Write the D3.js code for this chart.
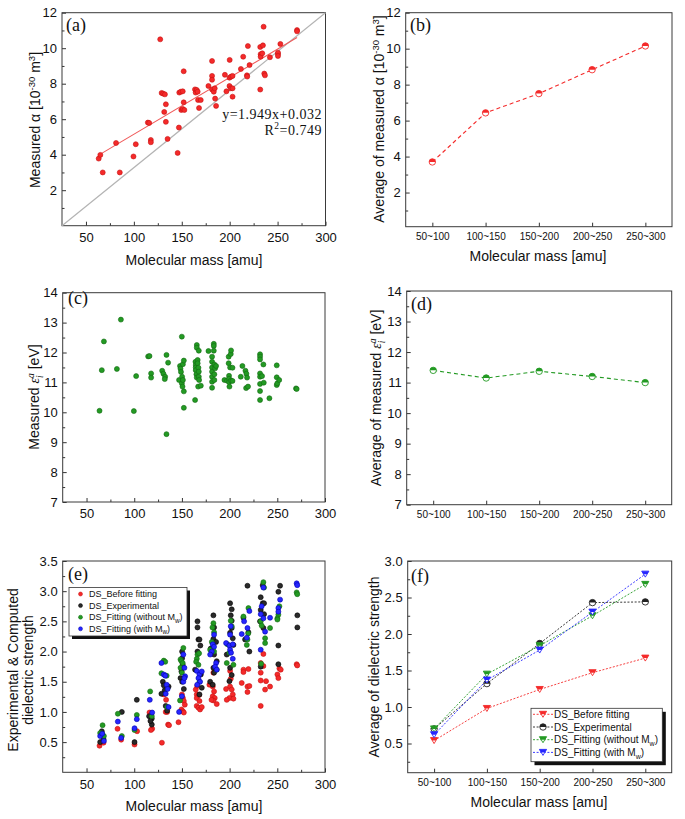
<!DOCTYPE html>
<html>
<head>
<meta charset="utf-8">
<script src="https://cdn.jsdelivr.net/npm/d3@7"></script>
<style>
  body { margin: 0; background: #fff; }
  svg text { font-family: "Liberation Sans", Arial, sans-serif; fill: #111; }
  svg .serif { font-family: "Liberation Serif", "Times New Roman", serif; }
  .tick line { stroke: #333; }
</style>
</head>
<body>
<div id="chart"></div>
<script>
// ---------------- data ----------------
var massBins = ["50~100", "100~150", "150~200", "200~250", "250~300"];
var massTicks = [50, 100, 150, 200, 250, 300];

// (a) measured polarizability vs molecular mass  [mass, alpha]
var alphaPts = [
  [63.3,3.78],[65,3.99],[67.5,3.0],[81.4,4.66],[85.3,3.0],[99.6,3.9],[102,4.59],[114.6,5.81],[116,5.79],
  [117.7,4.83],[117.7,4.7],[127.5,10.5],[129,7.48],[130.6,7.44],[132.4,7.4],[131.7,6.41],[133.4,6.84],
  [133.4,5.85],[135.2,4.89],[145.7,4.1],[147,5.53],[147.4,7.5],[149,7.55],[149.5,6.52],[151,7.57],
  [151,6.58],[152,8.7],[152,6.95],[152.7,6.52],[163.8,7.68],[164.5,7.5],[165.6,7.65],[166.6,7.55],
  [167,7.08],[168,6.63],[169.8,7.08],[177.8,7.87],[181.6,9.28],[181.6,8.44],[181.6,8.22],[181.6,7.68],
  [183.4,7.55],[184.4,7.74],[184.8,7.16],[185.8,6.75],[195,8.5],[196.6,7.57],[200,9.34],[199.8,8.34],
  [201.5,8.4],[199.8,7.87],[201.2,7.74],[203,8.44],[203,7.74],[203,7.27],[211.7,8.83],[214.1,9.52],
  [218,8.47],[218.3,8.4],[219,10.12],[220.7,9.05],[231.9,7.67],[231.9,10.07],[232.3,9.66],[232.3,9.52],
  [234,9.71],[234.7,10.16],[235.4,11.21],[236.1,8.57],[236.8,8.47],[242,9.49],[250.4,9.67],[250.4,9.75],
  [250.4,9.56],[252.9,10.24],[270.3,11.02],[270.3,10.95]
];
// fitted line in (a): alpha = fitIntercept + fitSlope * mass
var fitIntercept = 1.949, fitSlope = 0.032;

// (b) bin averages of alpha
var avgAlpha = [3.70, 6.43, 7.50, 8.83, 10.15];

// (c) measured ionization energy vs molecular mass  [mass, eV]
var ionPts = [
  [63.6,10.05],[66,11.41],[68.2,12.37],[81.8,11.45],[86,13.1],[99.6,10.04],[102,11.21],[114.6,11.87],
  [116,11.88],[117.7,11.3],[117.7,11.16],[129.3,11.39],[130.6,11.29],[132.4,11.19],[132,11.11],
  [133.8,11.92],[133.8,9.27],[135.5,11.66],[147,11.08],[148,11.55],[148.5,11.46],[149,11.35],
  [149.9,12.53],[150.2,11.19],[149.9,10.97],[150.6,10.86],[151,11.61],[151,11.08],[152,11.73],
  [152,10.7],[152,10.15],[163.8,10.41],[164.2,11.69],[164.5,11.58],[164.5,11.5],[164.5,11.41],
  [165.2,11.27],[165.6,11.16],[165.6,12.25],[165.6,12.16],[166.5,11.75],[166.5,11.64],[167.3,11.49],
  [167.7,11.36],[167.7,11.19],[168,11.08],[167.7,12.06],[167,10.86],[169.8,10.89],[177.8,12.05],
  [181.6,11.86],[181.6,11.69],[181.6,11.5],[181.6,11.36],[181.6,11.19],[181.6,11.02],[181.6,10.82],
  [183.4,12.29],[183.4,12.22],[183.4,12.06],[184,11.6],[184,11.27],[184,11.08],[184.8,11.47],
  [185.8,11.55],[194.6,11.08],[197.3,11.06],[199,11.86],[199,11.64],[199.4,11.22],[199.4,11.12],
  [199.4,11.01],[199.8,10.86],[200.5,11.5],[201.2,11.95],[201.5,12.07],[201.5,11.06],[203,11.49],
  [203,11.05],[211.7,11.19],[213.4,11.55],[216.6,11.39],[217.6,11.29],[218.3,11.16],[217.3,10.81],
  [219.3,10.86],[231.9,11.94],[231.9,11.86],[231.9,11.77],[231.9,11.3],[231.9,11.19],[231.9,10.95],
  [231.9,10.71],[231.9,10.41],[234,11.21],[235.4,11.6],[235.8,10.99],[241.7,10.47],[249.4,11.57],
  [249.4,11.17],[249.4,10.91],[250,10.97],[252,11.08],[269.6,10.8],[270.3,10.78]
];

// (d) bin averages of ionization energy
var avgIon = [11.40, 11.15, 11.37, 11.20, 11.00];

// (e) dielectric strength, four series  [mass, DS]
var dsBefore = [
  [63.6,0.44],[67.8,0.49],[82.5,0.72],[86.3,0.54],[100.3,0.46],[103,0.68],[116,0.99],[118.8,0.72],
  [117.5,0.70],[129,0.49],[131,1.29],[133.4,1.2],[133,1.0],[134.5,1.0],[135.5,0.79],[136.5,0.78],
  [146.4,0.83],[150,1.29],[151,1.23],[152,1.18],[149.5,1.04],[151,1.01],[153,1.12],[152,0.99],
  [164.5,1.37],[165.5,1.29],[165.5,1.23],[168.4,1.18],[165.5,1.1],[167.3,1.07],[169,1.04],[170.8,1.08],
  [166,1.43],[168,1.28],[183,1.65],[178.8,1.45],[182.3,1.42],[183.7,1.34],[182.3,1.26],[184.4,1.23],
  [183,1.19],[186.5,1.13],[181,1.2],[200.5,1.68],[201.2,1.55],[196.3,1.38],[200.5,1.42],[202.2,1.37],
  [203.3,1.29],[199.8,1.23],[204,1.22],[197,1.2],[214.5,1.7],[219.7,1.71],[214.5,1.66],[212.7,1.48],
  [218.7,1.42],[220.7,1.43],[218.7,1.33],[235.4,1.96],[232.6,1.81],[235.4,1.76],[232.6,1.65],
  [232.6,1.52],[238.2,1.51],[237.2,1.37],[242.4,1.42],[232.6,1.1],[252.2,1.72],[253.6,1.7],
  [250.1,1.62],[251.1,1.56],[270.3,1.79],[270.9,1.77]
];
var dsExp = [
  [64.3,0.5],[66,0.68],[67.8,0.55],[66.5,0.63],[87,1.0],[100.3,0.5],[102.7,1.2],[115.6,0.93],
  [118.4,0.79],[118.4,0.89],[117,0.85],[128.5,1.3],[130,1.5],[131,1.44],[132,1.36],[133,1.1],
  [134.5,1.02],[136,1.42],[150.2,2.0],[150.2,1.89],[150.8,1.78],[149.5,1.67],[148.5,1.56],[150.2,1.5],
  [152,1.38],[166.3,2.5],[166.3,2.4],[167.3,2.2],[168.4,2.2],[169.3,2.1],[166.3,2.0],[163.8,1.7],
  [169.8,1.62],[170.8,1.4],[168.4,1.29],[183,2.6],[183.7,2.4],[183,2.21],[185.8,2.16],[180.2,2.05],
  [183.7,1.95],[186.5,1.84],[183,1.73],[183.7,1.65],[179.6,1.5],[182.3,1.45],[200.5,2.8],[202.2,2.7],
  [201.2,2.6],[202.2,2.51],[202.2,2.39],[200.5,2.31],[203.3,2.22],[204,2.11],[197,1.95],[200.5,1.73],
  [202.2,1.61],[199.8,1.51],[218.7,3.09],[214.5,2.56],[219.7,2.32],[216.2,2.2],[220.7,2.0],
  [234.7,3.1],[232.6,2.9],[234.7,2.8],[232.6,2.69],[236.1,2.62],[231.9,2.5],[235.4,2.39],[236.1,2.8],
  [232.6,1.75],[252.9,3.09],[251.1,2.99],[251.1,2.1],[251.1,1.79],[271,2.6],[271,2.4]
];
var dsFitNoMw = [
  [64.3,0.65],[66.8,0.78],[68.2,0.6],[82.8,0.97],[87,0.6],[102.7,0.95],[100.3,0.7],[116.7,1.34],
  [118.4,0.93],[128.5,1.64],[131,1.85],[132.5,1.83],[134,1.6],[134.5,1.08],[148,1.19],[151.5,2.06],
  [148.5,1.87],[149.5,1.84],[150.8,1.81],[148.5,1.73],[150,1.65],[166.3,1.95],[165.6,1.88],
  [164.9,1.83],[167.3,1.78],[168.4,1.5],[168,1.97],[183,2.47],[183.7,2.32],[181.3,2.16],[179.6,2.03],
  [183.7,2.0],[186.5,1.7],[182,2.4],[201.2,2.51],[202.2,2.42],[197.7,2.12],[199.8,1.98],[204,1.78],
  [197,1.81],[219.7,2.72],[214.5,2.58],[218.7,2.2],[218,2.11],[219.5,2.3],[235.4,3.15],[236.1,3.06],
  [232.6,2.5],[233.6,2.43],[237.2,2.22],[237.2,2.14],[242.4,2.39],[233,1.8],[252.2,2.75],[251.1,2.61],
  [250.1,2.55],[250.1,2.53],[270.3,2.98],[270.9,2.95]
];
var dsFitMw = [
  [64.3,0.6],[66.4,0.64],[68.2,0.52],[82.8,0.84],[86.3,0.57],[100.3,0.73],[102.7,0.88],[116.3,1.2],
  [118.8,0.99],[128.5,1.81],[131,1.62],[132.5,1.6],[134,1.45],[135,1.38],[136,1.08],[133,1.3],
  [147,1.0],[150,1.26],[151.5,1.95],[152.6,1.73],[153.3,1.59],[151.5,1.5],[152.6,1.56],[165.6,1.68],
  [168.4,1.62],[170.8,1.67],[167.3,1.56],[169,1.5],[166,1.45],[183.7,2.28],[182.3,2.12],[183.7,2.08],
  [181.3,2.0],[179.6,1.95],[185.8,1.81],[184.8,1.75],[186.5,1.7],[201.2,2.42],[200.5,2.28],
  [196.3,2.14],[199.8,2.1],[203.3,2.12],[200.5,2.03],[201.5,1.98],[203.3,1.88],[220.7,2.67],
  [215.2,2.5],[218.7,2.39],[212.7,2.29],[218,2.23],[235.4,3.06],[233.6,2.75],[232.6,2.62],[235.4,2.55],
  [237.2,2.33],[242.4,2.56],[232.6,2.03],[252.9,2.86],[251.1,2.72],[251.1,2.66],[270.3,3.13],[270.9,3.1]
];

// (f) bin averages of dielectric strength
var avgBefore = [0.54, 0.98, 1.24, 1.47, 1.67];
var avgExp = [0.70, 1.32, 1.87, 2.43, 2.44];
var avgFitNoMw = [0.70, 1.45, 1.84, 2.25, 2.68];
var avgFitMw = [0.62, 1.37, 1.78, 2.30, 2.82];

// ---------------- drawing ----------------
var RED = "#f42a2a", GREEN = "#239a23", BLUE = "#2626ff", BLACK = "#222";

var svg = d3.select("#chart").append("svg")
  .attr("width", 685)
  .attr("height", 819);

svg.append("rect").attr("width", 685).attr("height", 819).attr("fill", "#fff");

// draws ticks, tick labels and the box around a panel
function drawFrame(p, x, y, o) {
  var bottom = svg.append("g").attr("transform", "translate(0," + p.b + ")");
  var ax = o.cat ? d3.axisBottom(x) : d3.axisBottom(x).tickValues(o.xTicks).tickFormat(d3.format("d"));
  bottom.call(ax.tickSize(-4).tickPadding(o.cat ? 6.5 : 7));
  bottom.selectAll("text").style("font-size", (o.cat ? 10 : 13) + "px");
  if (o.xMinor) {
    svg.append("g").attr("transform", "translate(0," + p.b + ")")
      .call(d3.axisBottom(x).tickValues(o.xMinor).tickSize(-2.5).tickFormat(""));
  }

  var left = svg.append("g").attr("transform", "translate(" + p.l + ",0)");
  left.call(d3.axisLeft(y).tickValues(o.yTicks).tickSize(-4).tickPadding(5).tickFormat(o.yFmt || d3.format("d")));
  left.selectAll("text").style("font-size", "13px");
  svg.append("g").attr("transform", "translate(" + p.l + ",0)")
    .call(d3.axisLeft(y).tickValues(o.yMinor).tickSize(-2.5).tickFormat(""));

  svg.selectAll(".domain").remove();

  svg.append("rect")
    .attr("x", p.l).attr("y", p.t)
    .attr("width", p.r - p.l).attr("height", p.b - p.t)
    .attr("fill", "none").attr("stroke", "#3a3a3a").attr("stroke-width", 1);
}

// text with sub/superscripts, optionally rotated
function richLabel(x, y, rot, parts, size) {
  var t = svg.append("text")
    .attr("text-anchor", "middle")
    .attr("transform", "translate(" + x + "," + y + ")" + (rot ? " rotate(-90)" : ""))
    .style("font-size", size + "px");
  var shift = 0;
  parts.forEach(function(p) {
    var target = p.sup ? -0.38 * size : p.sub ? 0.25 * size : 0;
    var s = t.append("tspan").text(p.t).attr("dy", target - shift);
    shift = target;
    if (p.sup || p.sub) s.style("font-size", (0.68 * size) + "px");
    if (p.dx) s.attr("dx", p.dx);
    if (p.it) s.style("font-style", "italic");
    if (p.serif) s.attr("class", "serif");
  });
  return t;
}

function panelLabel(x, y, txt) {
  svg.append("text").attr("class", "serif")
    .attr("x", x).attr("y", y)
    .style("font-size", "18px")
    .text(txt);
}

function dots(data, x, y, fill, stroke) {
  svg.append("g").selectAll("circle")
    .data(data)
    .enter().append("circle")
    .attr("cx", d => x(d[0]))
    .attr("cy", d => y(d[1]))
    .attr("r", 2.5)
    .attr("fill", fill)
    .attr("stroke", stroke)
    .attr("stroke-width", 0.6);
}

// Origin-style half filled markers (top half solid, bottom half hollow)
function halfCircle(g, cx, cy, color) {
  var r = 3.2;
  g.append("circle").attr("cx", cx).attr("cy", cy).attr("r", r)
    .attr("fill", "#fff").attr("stroke", color).attr("stroke-width", 0.9);
  g.append("path")
    .attr("d", "M" + (cx - r) + "," + cy + " A" + r + "," + r + " 0 0 1 " + (cx + r) + "," + cy + " Z")
    .attr("fill", color);
}
function halfTriangle(g, cx, cy, color) {
  var s = 3.6, h = 3;
  g.append("path")
    .attr("d", "M" + (cx - s) + "," + (cy - h) + " L" + (cx + s) + "," + (cy - h) + " L" + cx + "," + (cy + h) + " Z")
    .attr("fill", "#fff").attr("stroke", color).attr("stroke-width", 0.9);
  g.append("path")
    .attr("d", "M" + (cx - s) + "," + (cy - h) + " L" + (cx + s) + "," + (cy - h) + " L" + (cx + s / 2) + "," + cy +
      " L" + (cx - s / 2) + "," + cy + " Z")
    .attr("fill", color);
}

function avgSeries(values, x, y, color, dash, marker, width) {
  var line = d3.line().x((d, i) => x(massBins[i])).y(d => y(d));
  svg.append("path").datum(values)
    .attr("d", line)
    .attr("fill", "none")
    .attr("stroke", color)
    .attr("stroke-width", width)
    .attr("stroke-dasharray", dash);
  var g = svg.append("g");
  values.forEach(function(v, i) { marker(g, x(massBins[i]), y(v), color); });
}

// legend entry text with an optional subscript part
function legendText(x, y, parts, size) {
  var t = svg.append("text").attr("x", x).attr("y", y).style("font-size", size + "px");
  var shift = 0;
  parts.forEach(function(p) {
    var target = p.sub ? 0.27 * size : 0;
    var ts = t.append("tspan").text(p.t).attr("dy", target - shift);
    shift = target;
    if (p.sub) ts.style("font-size", (0.7 * size) + "px");
  });
}

var massLabel = [{ t: "Molecular mass [amu]" }];

// ---------- (a) ----------
var pA = { l: 62, r: 325.5, t: 12.7, b: 225.7 };
var xA = d3.scaleLinear().domain([25, 300]).range([pA.l, pA.r]);
var yA = d3.scaleLinear().domain([0, 12]).range([pA.b, pA.t]);
drawFrame(pA, xA, yA, {
  xTicks: massTicks, xMinor: [75, 125, 175, 225, 275],
  yTicks: [2, 4, 6, 8, 10, 12], yMinor: [1, 3, 5, 7, 9, 11]
});
// grey diagonal across the panel
svg.append("line")
  .attr("x1", xA(xA.domain()[0])).attr("y1", yA(yA.domain()[0]))
  .attr("x2", xA(xA.domain()[1])).attr("y2", yA(yA.domain()[1]))
  .attr("stroke", "#b4b4b4").attr("stroke-width", 1.2);
var massExtent = d3.extent(alphaPts, d => d[0]);
svg.append("line")
  .attr("x1", xA(massExtent[0])).attr("y1", yA(fitIntercept + fitSlope * massExtent[0]))
  .attr("x2", xA(massExtent[1])).attr("y2", yA(fitIntercept + fitSlope * massExtent[1]))
  .attr("stroke", "#f05a5a").attr("stroke-width", 1.1);
dots(alphaPts, xA, yA, RED, "#c81010");
svg.append("text").attr("class", "serif").attr("text-anchor", "end")
  .attr("x", 322).attr("y", 118.5).style("font-size", "14px").style("letter-spacing", "0.5px")
  .text("y=1.949x+0.032");
var r2 = svg.append("text").attr("class", "serif").attr("text-anchor", "end")
  .attr("x", 322).attr("y", 134.5).style("font-size", "14px").style("letter-spacing", "0.5px");
r2.append("tspan").text("R");
r2.append("tspan").text("2").attr("dy", -5.5).style("font-size", "9.5px");
r2.append("tspan").text("=0.749").attr("dy", 5.5);
panelLabel(66, 31, "(a)");
richLabel(40, 120, true, [{ t: "Measured " }, { t: "α" }, { t: " [10" }, { t: "-30", sup: 1 }, { t: " m" }, { t: "3", sup: 1 }, { t: "]" }], 14);
richLabel(194, 265, false, massLabel, 14);

// ---------- (b) ----------
var pB = { l: 405.7, r: 672, t: 12.7, b: 226.7 };
var xB = d3.scalePoint().domain(massBins).range([pB.l, pB.r]).padding(0.5);
var yB = d3.scaleLinear().domain([0.1, 12]).range([pB.b, pB.t]);
drawFrame(pB, xB, yB, { cat: true, yTicks: [2, 4, 6, 8, 10, 12], yMinor: [1, 3, 5, 7, 9, 11] });
avgSeries(avgAlpha, xB, yB, RED, "4,3", halfCircle, 1.1);
panelLabel(410, 31, "(b)");
richLabel(384, 119, true, [{ t: "Average of measured " }, { t: "α" }, { t: " [10" }, { t: "-30", sup: 1 }, { t: " m" }, { t: "3", sup: 1 }, { t: "]" }], 14);
richLabel(538, 261, false, massLabel, 14);

// ---------- (c) ----------
var pC = { l: 62.7, r: 325, t: 292.7, b: 502 };
var xC = d3.scaleLinear().domain([25, 300]).range([pC.l, pC.r]);
var yC = d3.scaleLinear().domain([7, 14]).range([pC.b, pC.t]);
drawFrame(pC, xC, yC, {
  xTicks: massTicks, xMinor: [75, 125, 175, 225, 275],
  yTicks: d3.range(7, 14.5, 1), yMinor: d3.range(7.5, 14, 1)
});
dots(ionPts, xC, yC, GREEN, "#136913");
panelLabel(68, 304, "(c)");
var epsParts = [{ t: "ε", it: 1, serif: 1 }, { t: "i", sub: 1, it: 1, serif: 1 }, { t: "a", sup: 1, it: 1, serif: 1, dx: -2.6 }, { t: " [eV]" }];
richLabel(39, 397, true, [{ t: "Measured " }].concat(epsParts), 14);

// ---------- (d) ----------
var pD = { l: 406.7, r: 671.7, t: 291, b: 504.7 };
var xD = d3.scalePoint().domain(massBins).range([pD.l, pD.r]).padding(0.5);
var yD = d3.scaleLinear().domain([7, 14]).range([pD.b, pD.t]);
drawFrame(pD, xD, yD, { cat: true, yTicks: d3.range(7, 14.5, 1), yMinor: d3.range(7.5, 14, 1) });
avgSeries(avgIon, xD, yD, GREEN, "4,3", halfCircle, 1.1);
panelLabel(411, 310, "(d)");
richLabel(381, 398, true, [{ t: "Average of measured " }].concat(epsParts), 14);

// ---------- (e) ----------
var pE = { l: 62.7, r: 325, t: 561, b: 772.3 };
var xE = d3.scaleLinear().domain([25, 300]).range([pE.l, pE.r]);
var yE = d3.scaleLinear().domain([0, 3.5]).range([pE.b, pE.t]);
drawFrame(pE, xE, yE, {
  xTicks: massTicks, xMinor: [75, 125, 175, 225, 275],
  yTicks: d3.range(0.5, 3.55, 0.5), yMinor: d3.range(0.25, 3.5, 0.5), yFmt: d3.format(".1f")
});
var dsSeries = [
  { data: dsBefore, fill: RED, stroke: "#c81010", name: [{ t: "DS_Before fitting" }] },
  { data: dsExp, fill: "#2a2a2a", stroke: "#000", name: [{ t: "DS_Experimental" }] },
  { data: dsFitNoMw, fill: GREEN, stroke: "#136913", name: [{ t: "DS_Fitting (without M" }, { t: "w", sub: 1 }, { t: ")" }] },
  { data: dsFitMw, fill: BLUE, stroke: "#0000b0", name: [{ t: "DS_Fitting (with M" }, { t: "w", sub: 1 }, { t: ")" }] }
];
dsSeries.forEach(s => dots(s.data, xE, yE, s.fill, s.stroke));

// legend (e)
var legE = { x: 69, y: 587.5, w: 118, h: 48.5 };
svg.append("rect").attr("x", legE.x + 3).attr("y", legE.y + 3).attr("width", legE.w).attr("height", legE.h).attr("fill", "#111");
svg.append("rect").attr("x", legE.x).attr("y", legE.y).attr("width", legE.w).attr("height", legE.h)
  .attr("fill", "#fff").attr("stroke", "#333").attr("stroke-width", 0.8);
dsSeries.forEach(function(s, i) {
  var cy = legE.y + 6.5 + i * 11.6;
  svg.append("circle").attr("cx", legE.x + 11.5).attr("cy", cy).attr("r", 2)
    .attr("fill", s.fill).attr("stroke", s.stroke).attr("stroke-width", 0.5);
  legendText(legE.x + 20, cy + 3.2, s.name, 9);
});
panelLabel(68, 580, "(e)");
richLabel(18, 670, true, [{ t: "Experimental & Computed" }], 14);
richLabel(33, 670, true, [{ t: "dielectric strength" }], 14);
richLabel(194, 811, false, massLabel, 14);

// ---------- (f) ----------
var pF = { l: 407.7, r: 671.7, t: 561, b: 772.7 };
var xF = d3.scalePoint().domain(massBins).range([pF.l, pF.r]).padding(0.5);
var yF = d3.scaleLinear().domain([0.1, 3.0]).range([pF.b, pF.t]);
drawFrame(pF, xF, yF, {
  cat: true, yTicks: d3.range(0.5, 3.05, 0.5), yMinor: d3.range(0.25, 3.0, 0.5), yFmt: d3.format(".1f")
});
var avgSeriesF = [
  { values: avgBefore, color: RED, marker: halfTriangle, name: dsSeries[0].name },
  { values: avgExp, color: BLACK, marker: halfCircle, name: dsSeries[1].name },
  { values: avgFitNoMw, color: GREEN, marker: halfTriangle, name: dsSeries[2].name },
  { values: avgFitMw, color: BLUE, marker: halfTriangle, name: dsSeries[3].name }
];
avgSeriesF.forEach(s => avgSeries(s.values, xF, yF, s.color, "2,1.6", s.marker, 0.9));

// legend (f)
var legF = { x: 531, y: 708.3, w: 131.3, h: 53.4 };
svg.append("rect").attr("x", legF.x + 3.5).attr("y", legF.y + 3.5).attr("width", legF.w).attr("height", legF.h).attr("fill", "#111");
svg.append("rect").attr("x", legF.x).attr("y", legF.y).attr("width", legF.w).attr("height", legF.h)
  .attr("fill", "#fff").attr("stroke", "#333").attr("stroke-width", 0.8);
avgSeriesF.forEach(function(s, i) {
  var cy = legF.y + 6 + i * 12.7;
  var g = svg.append("g");
  g.append("line").attr("x1", legF.x + 2).attr("x2", legF.x + 22).attr("y1", cy).attr("y2", cy)
    .attr("stroke", s.color).attr("stroke-width", 0.9).attr("stroke-dasharray", "2,1.6");
  s.marker(g, legF.x + 12, cy, s.color);
  legendText(legF.x + 23, cy + 3.5, s.name, 10);
});
panelLabel(411, 582, "(f)");
richLabel(379, 667, true, [{ t: "Average of dielectric strength" }], 14);
richLabel(539, 807, false, massLabel, 14);
</script>
</body>
</html>
